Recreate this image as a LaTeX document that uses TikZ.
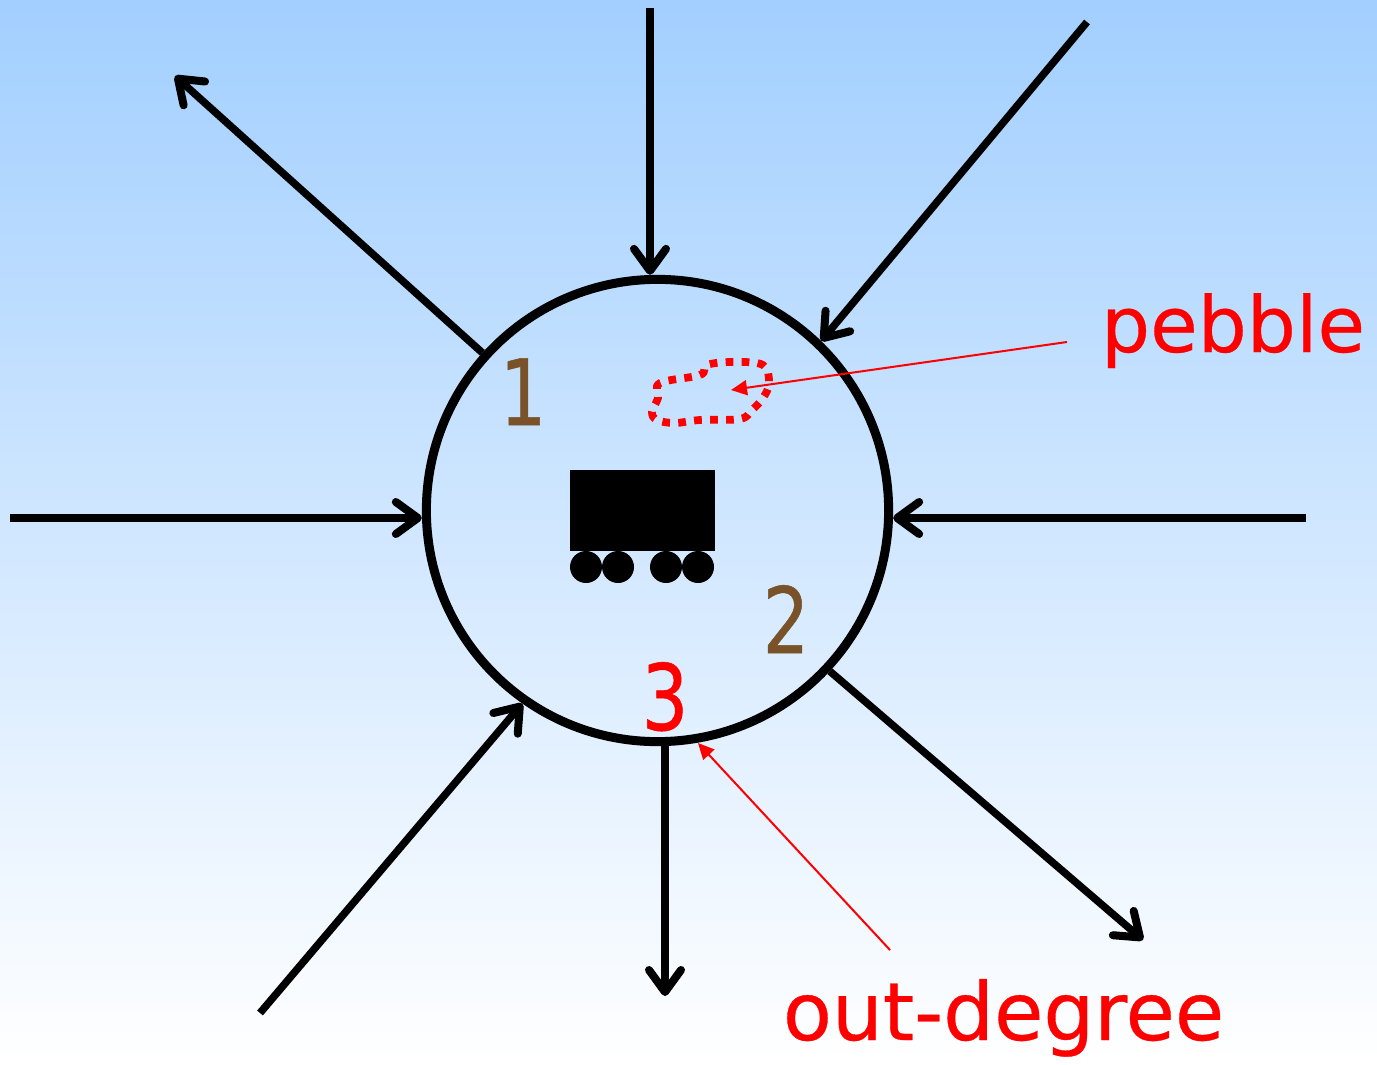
\documentclass[tikz,border=0pt]{standalone}
\usepackage{fontspec}
\setmainfont{DejaVu Sans}
\newfontfamily\digitfont[FakeBold=0.6, FakeStretch=0.8]{DejaVu Sans}
\newfontfamily\captionfont[FakeBold=0.4]{DejaVu Sans}
\usetikzlibrary{arrows.meta}
\definecolor{skytop}{RGB}{162,207,255}
\definecolor{digitbrown}{RGB}{122,82,41}
\tikzset{
	spoke/.style={line width=0.75mm, color=black, -{Straight Barb[round, length=2.2mm, width=3.2mm, line width=0.8mm]}},
	note/.style={line width=0.2mm, color=red, -{Triangle[length=1.6mm, width=1.5mm]}},
	digit/.style={anchor=base, font=\digitfont\fontsize{26}{26}\selectfont},
	caption/.style={anchor=base, text=red, font=\captionfont\fontsize{#1}{22}\selectfont},
}

\begin{document}
\begin{tikzpicture}[x=0.01cm, y=-0.01cm]
		%%%%% BACKGROUND %%%%%
		\useasboundingbox (0, 0) rectangle (1377, 1064);
		\shade[top color=skytop, middle color=skytop!46!white, bottom color=white] (0, 0) rectangle (1377, 1064);
		
		%%%%% VERTEX %%%%%
		\node[circle, draw, line width=0.9mm, minimum size=4.62cm, inner sep=0pt] (hub) at (657.5, 510.5) {};
		
		\coordinate (inTop) at (650, 8);
		\coordinate (inRight) at (1087, 22);
		\coordinate (inEast) at (1306, 518);
		\coordinate (inWest) at (10, 518);
		\coordinate (inLow) at (260, 1013);
		\coordinate (outLeft) at (175, 76);
		\coordinate (outDown) at (665, 996);
		\coordinate (outRight) at (1143, 940);
		
		\draw[spoke] (inTop) -- (hub.north -| inTop);
		\draw[spoke] (inRight) -- (hub.46);
		\draw[spoke] (inEast) -- (hub.east |- inEast);
		\draw[spoke] (inWest) -- (hub.west |- inWest);
		\draw[spoke] (inLow) -- (hub.235);
		\draw[spoke] (hub.138) -- (outLeft);
		\draw[spoke] (hub.south -| outDown) -- (outDown);
		\draw[spoke] (hub.-43) -- (outRight);
		
		%%%%% WAGON %%%%%
		\fill[black] (570, 470) rectangle (715, 551);
		\foreach \wheelx in {586, 618, 666, 698}
			\fill[black] (\wheelx, 567) circle (16);
		
		%%%%% PEBBLE %%%%%
		\draw[color=red, line width=2.2pt, dash pattern=on 2.2pt off 2.35pt]
			plot[smooth cycle, tension=0.6] coordinates {(660, 383) (700, 375) (707, 365) (733, 362) (763, 365) (769, 383) (763, 398) (752, 410) (740, 419) (700, 420) (675, 423) (657, 420) (652, 412) (658, 398)};
		
		%%%%% LABELS %%%%%
		\node[digit, text=digitbrown] (one) at (523, 425) {1};
		\node[digit, text=digitbrown] (two) at (786, 653) {2};
		\node[digit, text=red] (three) at (665, 730) {3};
		\node[caption=22] (pebbleText) at (1233, 352) {pebble};
		\node[caption=22.8] (degreeText) at (1003.5, 1040) {out-degree};
		
		\coordinate (pebbleFrom) at (1067, 342);
		\coordinate (pebbleTo) at (731, 390);
		\coordinate (degreeFrom) at (890, 950);
		\coordinate (degreeTo) at (698, 743);
		\draw[note] (pebbleFrom) -- (pebbleTo);
		\draw[note] (degreeFrom) -- (degreeTo);
		%%%%% END %%%%%
	\end{tikzpicture}
\end{document}
